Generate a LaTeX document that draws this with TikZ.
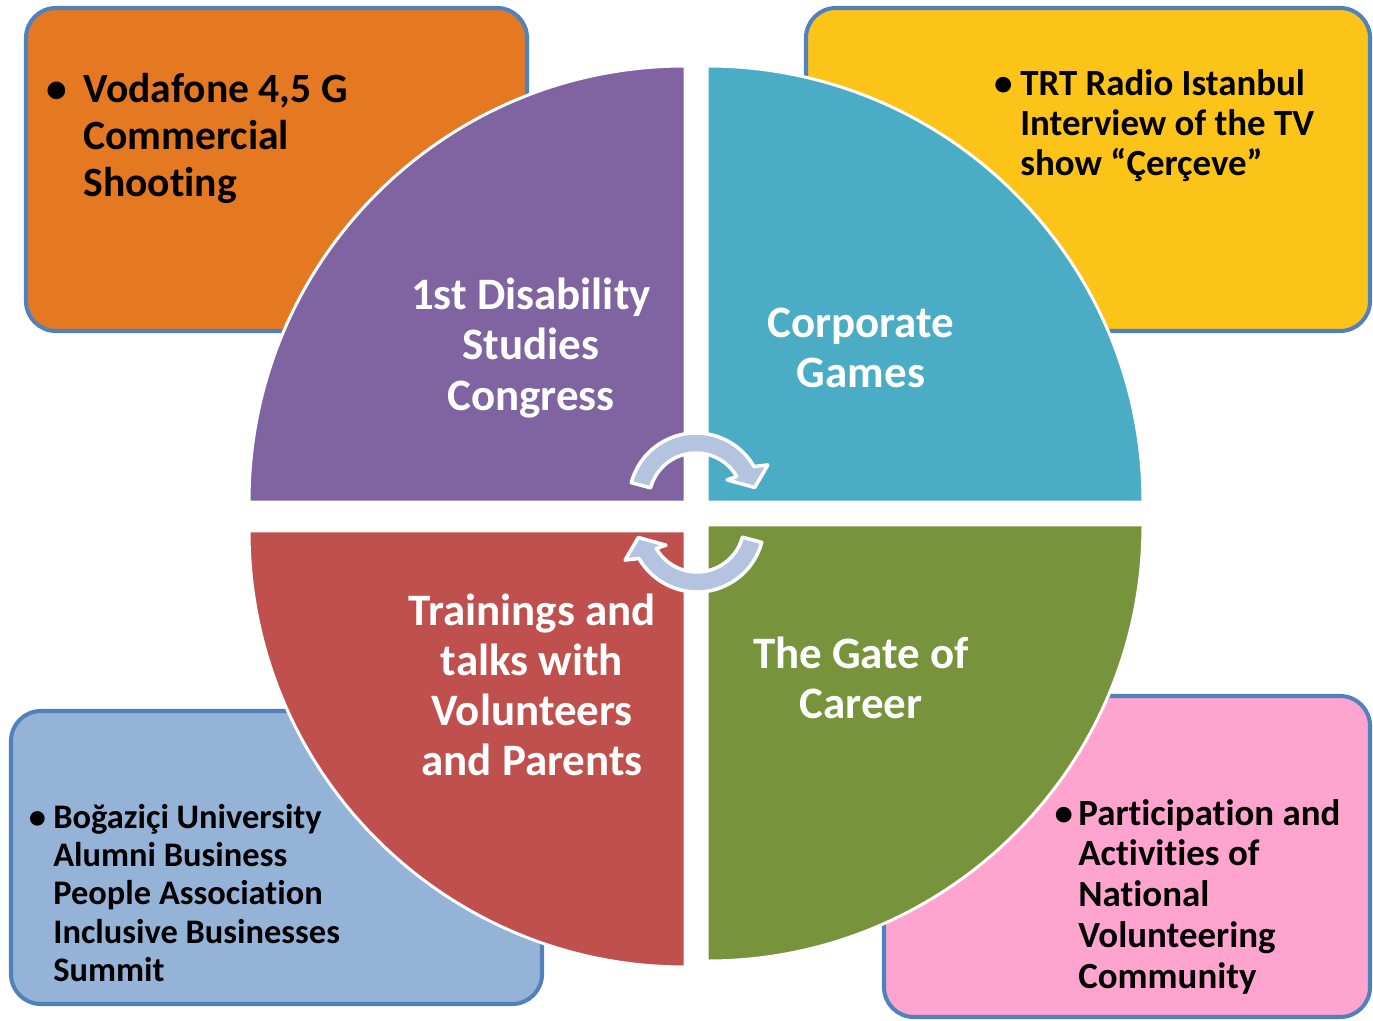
\documentclass[tikz,border=0pt]{standalone}
\usepackage{fontspec}
\setmainfont{Carlito}[Ligatures=NoCommon]
\usepackage{tikz}
\usetikzlibrary{calc}

\definecolor{boxline}{HTML}{4F81BD}
\definecolor{orangebox}{HTML}{E57922}
\definecolor{yellowbox}{HTML}{FCC419}
\definecolor{bluebox}{HTML}{95B3D7}
\definecolor{pinkbox}{HTML}{FFA3CF}
\definecolor{purplequad}{HTML}{8064A2}
\definecolor{tealquad}{HTML}{4BACC6}
\definecolor{redquad}{HTML}{C0504D}
\definecolor{greenquad}{HTML}{77933C}
\definecolor{arrowblue}{HTML}{B4C4E0}

\newcommand{\itembullet}[1]{\llap{\makebox[#1][l]{•}}}

\begin{document}
\begin{tikzpicture}[x=0.02cm,y=-0.02cm,
  panel/.style={draw=boxline,line width=2.3pt,rounded corners=17pt},
  quad/.style={fill=#1,draw=white,line width=1.7pt},
  quadtext/.style={text=white,align=center,inner sep=0pt,font=\bfseries\fontsize{25.6}{28.5}\selectfont},
  itemtext/.style={anchor=base west,inner sep=0pt,text width=9cm,align=flush left},
  cyclearrow/.style={fill=arrowblue,draw=white,line width=2pt,line join=round}
]
\useasboundingbox (0,0) rectangle (1373,1021);

% corner boxes
\draw[panel,fill=orangebox] (26,8) rectangle (527,331);
\draw[panel,fill=yellowbox] (806,8) rectangle (1370,331);
\draw[panel,fill=bluebox] (11,711) rectangle (542,1004);
\draw[panel,fill=pinkbox] (884,696) rectangle (1370,1017);

% four quarters
\fill[quad=purplequad] (685,502) -- ++(180:436) arc[start angle=180,end angle=270,radius=436] -- cycle;
\fill[quad=tealquad] (707,502) -- ++(270:436) arc[start angle=270,end angle=360,radius=436] -- cycle;
\fill[quad=greenquad] (707,525) -- ++(0:436) arc[start angle=0,end angle=90,radius=436] -- cycle;
\fill[quad=redquad] (685,531) -- ++(90:436) arc[start angle=90,end angle=180,radius=436] -- cycle;

% cycle arrows
\foreach \cx/\cy/\rot in {696/500/0, 697/525/180}{
  \begin{scope}[shift={(\cx,\cy)},rotate=\rot]
    \filldraw[cyclearrow] (195:67) arc[start angle=195,end angle=330,radius=67]
      -- (334:80) -- (348:60) -- (327:37) -- (330:47)
      arc[start angle=330,end angle=195,radius=47] -- cycle;
  \end{scope}
}

\node[quadtext] (congress) at (531,348) {1st Disability\\Studies\\Congress};
\node[quadtext] (games) at (861,348) {Corporate\\Games};
\node[quadtext] (trainings) at (532,685) {Trainings and\\talks with\\Volunteers\\and Parents};
\node[quadtext] (career) at (861,678) {The Gate of\\Career};

\node[itemtext,font=\bfseries\fontsize{23.7}{26.9}\selectfont] (vodafone) at (83,102)
  {\itembullet{21pt}Vodafone 4,5 G\\Commercial\\Shooting};
\node[itemtext,font=\bfseries\fontsize{21}{23}\selectfont] (radio) at (1020,95)
  {\itembullet{15pt}TRT Radio Istanbul\\Interview of the TV\\show “Çerçeve”};
\node[itemtext,font=\bfseries\fontsize{19.6}{21.9}\selectfont] (summit) at (53,828)
  {\itembullet{14pt}Boğaziçi University\\Alumni Business\\People Association\\Inclusive Businesses\\Summit};
\node[itemtext,font=\bfseries\fontsize{21}{23.3}\selectfont] (community) at (1078,825)
  {\itembullet{13.5pt}Participation and\\Activities of\\National\\Volunteering\\Community};
\end{tikzpicture}
\end{document}
